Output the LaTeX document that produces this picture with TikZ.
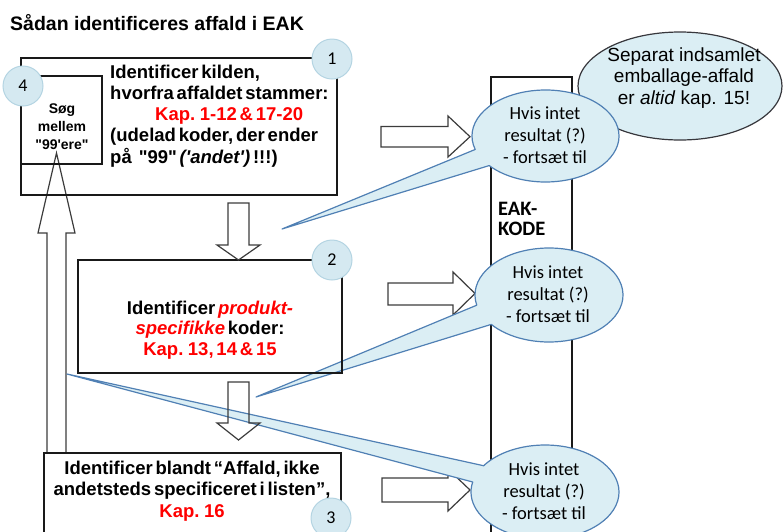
\documentclass[tikz,border=0pt]{standalone}
\usepackage{fontspec}
\setmainfont{Liberation Sans}
\newfontfamily\carl{Carlito}
\newfontfamily\tightsans[WordSpace=0.55]{Liberation Sans}
\usetikzlibrary{calc}
\definecolor{cfill}{RGB}{219,238,244}
\definecolor{cborder}{RGB}{80,128,180}
\definecolor{bigborder}{RGB}{55,55,60}
\definecolor{numfill}{RGB}{213,233,241}
\definecolor{numborder}{RGB}{180,212,226}
\definecolor{boxline}{RGB}{25,25,25}
\definecolor{arrline}{RGB}{60,60,60}
\definecolor{kred}{RGB}{255,0,0}
\newcommand{\tabL}[1]{\begin{tabular}[t]{@{}l@{}}#1\end{tabular}}
\newcommand{\tabC}[1]{\begin{tabular}[t]{@{}c@{}}#1\end{tabular}}
\begin{document}
\begin{tikzpicture}[x=1pt,y=-1pt,
  flowbox/.style={draw=boxline, line width=1.5pt, inner sep=0pt},
  blockarr/.style={draw=arrline, line width=1.2pt, fill=white, line join=miter},
  openarr/.style={draw=arrline, line width=1.2pt, line join=miter},
  cbubble/.style={fill=cfill, draw=cborder, line width=1.2pt, line join=round},
  bigbubble/.style={fill=cfill, draw=bigborder, line width=1.2pt},
  num/.style={circle, fill=numfill, draw=numborder, line width=1pt, minimum size=40pt, inner sep=0pt, font=\carl\fontsize{18}{20}\selectfont},
  txt/.style={inner sep=0pt},
  boldtxt/.style={inner sep=0pt, font=\tightsans\bfseries\fontsize{18.5}{21.3}\selectfont},
  bubtxt/.style={inner sep=0pt, anchor=base, font=\carl\fontsize{18.5}{22.3}\selectfont}]
\useasboundingbox (0,0) rectangle (783,531);
\clip (0,0) rectangle (783,531);

% EAK column
\node[flowbox, minimum width=81pt, minimum height=483pt] (eak) at (531.5,318.5) {};

% right block arrows
\path[blockarr] (381,126.5) -- (448,126.5) -- (448,116) -- (470,136.7) -- (448,157) -- (448,147) -- (381,147) -- cycle;
\path[blockarr] (388,283) -- (453,283) -- (453,272) -- (475,293.5) -- (453,315) -- (453,305) -- (388,305) -- cycle;
\path[blockarr] (382,478) -- (448,478) -- (448,469) -- (470,490) -- (448,511) -- (448,502) -- (382,502) -- cycle;

% up arrow
\path[blockarr] (47,453) -- (47,233) -- (38,233) -- (56.5,153) -- (75,233) -- (66,233) -- (66,453) -- cycle;

% big bubble
\path[bigbubble] (680,86) ellipse [x radius=102, y radius=54];

% callouts
\coordinate (e1) at (545.5,136);
\coordinate (tip1) at (282,229);
\path[cbubble] (tip1) -- ($(e1)+(163:73.5 and 46)$) arc[start angle=163, end angle=500, x radius=73.5, y radius=46] -- cycle;
\coordinate (e2) at (549,295);
\coordinate (tip2) at (256,397);
\path[cbubble] (tip2) -- ($(e2)+(167.5:74 and 47)$) arc[start angle=167.5, end angle=501.3, x radius=74, y radius=47] -- cycle;
\coordinate (e3) at (545,492);
\coordinate (tip3) at (67,374);
\path[cbubble] (tip3) -- ($(e3)+(214:74 and 47)$) arc[start angle=214, end angle=552.3, x radius=74, y radius=47] -- cycle;

% boxes
\node[flowbox, minimum width=316pt, minimum height=137pt] (b1) at (179,126.5) {};
\node[flowbox, minimum width=81pt, minimum height=88pt] (b4) at (61.5,120) {};
\node[flowbox, minimum width=264pt, minimum height=113pt] (b2) at (210,316.5) {};
\node[flowbox, minimum width=297pt, minimum height=107pt] (b3) at (192.5,506.5) {};

% down arrows
\path[openarr, fill=white] (228,203) -- (249,203) -- (249,245) -- (260,245) -- (238.5,260) -- (217,245) -- (228,245) -- cycle;
\path[openarr] (228,382) -- (249,382) -- (249,423) -- (260,423) -- (238.5,440) -- (217,423) -- (228,423) -- cycle;

% number circles
\node[num] (n1) at (332,59) {1};
\node[num] (n2) at (332,260) {2};
\node[num] (n3) at (331,518) {3};
\node[num] (n4) at (23,86) {4};

% title
\node[txt, anchor=base west, font=\bfseries\fontsize{19.5}{22}\selectfont] (title) at (10,30.5) {Sådan identificeres affald i EAK};

% box 1 text
\node[boldtxt, anchor=base west] (t1) at (110,78) {\tabL{Identificer kilden,\\hvorfra affaldet stammer:\\\hspace*{45pt}\textcolor{kred}{Kap. 1-12 \& 17-20}\\(udelad koder, der ender\\på\hspace{7pt}"99" \textit{('andet')} !!!)}};

% box 4 text
\node[txt, anchor=base, font=\tightsans\bfseries\fontsize{14}{18}\selectfont] (t4) at (62,113) {\tabC{Søg\\mellem\\"99'ere"}};

% box 2 text
\node[boldtxt, anchor=base, font=\tightsans\bfseries\fontsize{18.5}{20.5}\selectfont] (t2) at (210,314) {\tabC{Identificer \textcolor{kred}{\textit{produkt-}}\\\textcolor{kred}{\textit{specifikke}} koder:\\\textcolor{kred}{Kap. 13, 14 \& 15}}};

% box 3 text
\node[boldtxt, anchor=base, font=\tightsans\bfseries\fontsize{18.5}{21.5}\selectfont] (t3) at (192,474) {\tabC{Identificer blandt “Affald, ikke\\andetsteds specificeret i listen”,\\\textcolor{kred}{Kap. 16}}};

% EAK text
\node[txt, anchor=base west, font=\carl\bfseries\fontsize{20.5}{20}\selectfont] (teak) at (498,215) {\tabL{EAK-\\KODE}};

% bubble texts
\node[bubtxt] (k1) at (545,119) {\tabC{Hvis intet\\resultat (?)\\- fortsæt til}};
\node[bubtxt] (k2) at (548,278) {\tabC{Hvis intet\\resultat (?)\\- fortsæt til}};
\node[bubtxt] (k3) at (544,475) {\tabC{Hvis intet\\resultat (?)\\- fortsæt til}};
\node[txt, anchor=base, font=\fontsize{19}{21.5}\selectfont] (kbig) at (684,61) {\tabC{Separat indsamlet\\emballage-affald\\er \textit{altid} kap. 15!}};
\end{tikzpicture}
\end{document}
